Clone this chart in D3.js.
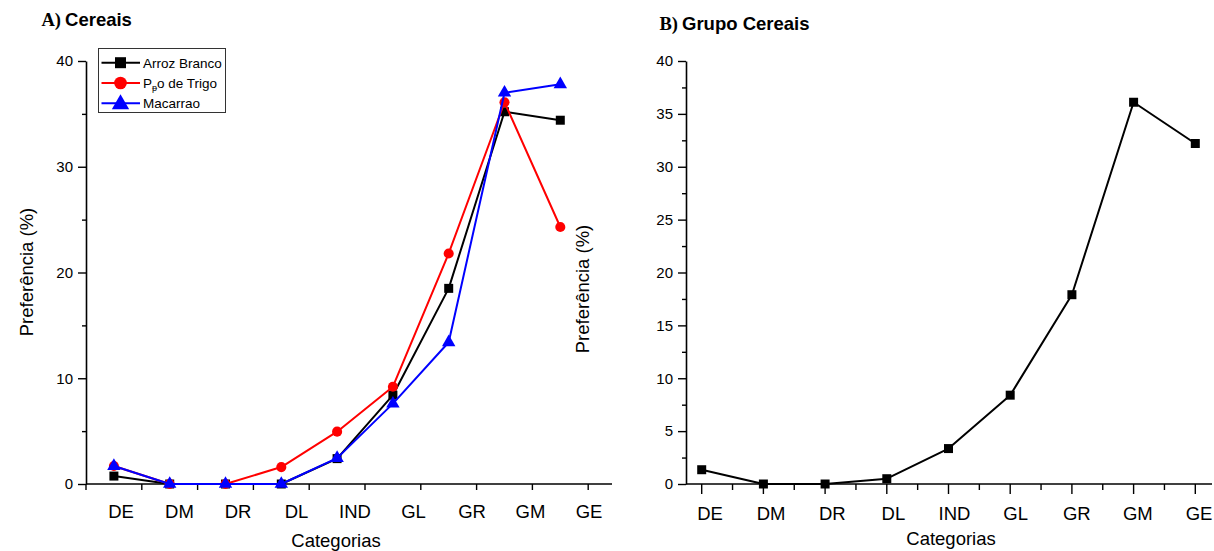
<!DOCTYPE html>
<html>
<head>
<meta charset="utf-8">
<script src="https://cdn.jsdelivr.net/npm/d3@7/dist/d3.min.js"></script>
<style>
  html, body { margin: 0; padding: 0; background: #fff; }
  svg { display: block; font-family: "Liberation Sans", Arial, sans-serif; }
</style>
</head>
<body>
<svg id="chart" width="1214" height="551"></svg>
<script>
// Categories on the x axis (shared by both panels)
const categories = ["DE", "DM", "DR", "DL", "IND", "GL", "GR", "GM", "GE"];

// Panel A: preference (%) per cereal item
const arrozBranco = [0.75, 0, 0, 0, 2.4, 8.4, 18.5, 35.2, 34.4];
const paoDeTrigo  = [1.7, 0, 0, 1.6, 4.95, 9.2, 21.8, 36.1, 24.3];
const macarrao    = [1.7, 0, 0, 0, 2.45, 7.6, 13.4, 37.0, 37.8];

// Panel B: cereal group preference (%)
const grupoCereais = [1.35, 0, 0, 0.5, 3.35, 8.4, 17.9, 36.1, 32.2];

// Tick values
const leftMajorTicks  = [0, 10, 20, 30, 40];
const leftMinorTicks  = [5, 15, 25, 35];
const rightMajorTicks = [0, 5, 10, 15, 20, 25, 30, 35, 40];
const rightMinorTicks = [2.5, 7.5, 12.5, 17.5, 22.5, 27.5, 32.5, 37.5];

const seriesA = [
  { name: "Arroz Branco", values: arrozBranco, color: "#000000", symbol: d3.symbolSquare },
  { name: "Pão de Trigo", values: paoDeTrigo,  color: "#ff0000", symbol: d3.symbolCircle },
  { name: "Macarrao",     values: macarrao,    color: "#0000ff", symbol: d3.symbolTriangle }
];

const svg = d3.select("#chart");
const tickFont = 15, labelFont = 18.5;

function drawYAxis(g, x, y, major, minor) {
  const ax = g.append("g").attr("transform", `translate(${x},0)`)
    .call(d3.axisLeft(y).tickValues(major).tickSize(8).tickPadding(5).tickSizeOuter(0));
  ax.select(".domain").attr("stroke", "#000").attr("stroke-width", 1.6);
  ax.selectAll(".tick line").attr("stroke", "#000").attr("stroke-width", 1.4);
  ax.selectAll(".tick text").attr("font-size", tickFont).attr("fill", "#000")
    .attr("font-family", "Liberation Sans, Arial, sans-serif");
  const mn = g.append("g").attr("transform", `translate(${x},0)`)
    .call(d3.axisLeft(y).tickValues(minor).tickSize(4).tickFormat(""));
  mn.select(".domain").remove();
  mn.selectAll(".tick line").attr("stroke", "#000").attr("stroke-width", 1.4);
}

function drawSeries(g, x, y, values, color, symbol, size, width) {
  const line = d3.line().x((d, i) => x(categories[i])).y(d => y(d));
  g.append("path").datum(values).attr("d", line)
    .attr("fill", "none").attr("stroke", color).attr("stroke-width", width)
    .attr("stroke-linejoin", "round");
  g.selectAll(null).data(values).enter().append("path")
    .attr("transform", (d, i) => `translate(${x(categories[i])},${y(d)})`)
    .attr("d", d3.symbol().type(symbol).size(size))
    .attr("fill", color);
}

function title(g, x, y, letter, text) {
  const t = g.append("text").attr("y", y).attr("font-weight", "bold").attr("fill", "#000");
  t.append("tspan").attr("x", x).attr("font-family", "Liberation Serif, Times New Roman, serif")
    .attr("font-size", 18.5).text(letter);
  t.append("tspan").attr("dx", 4).attr("font-family", "Liberation Sans, Arial, sans-serif")
    .attr("font-size", 18.5).text(text);
}

/* ---------------- Panel A ---------------- */
{
  const g = svg.append("g");
  const yA = d3.scaleLinear().domain([0, 40]).range([484, 61]);
  const band = d3.scaleBand().domain(categories).range([86, 588.2]).padding(0);
  const xA = c => band(c) + band.bandwidth() / 2;
  const labelX = d3.scalePoint().domain(categories).range([121, 589]);

  // x axis line and ticks at category boundaries
  g.append("line").attr("x1", 86).attr("x2", 612).attr("y1", yA(0)).attr("y2", yA(0))
    .attr("stroke", "#000").attr("stroke-width", 1.6);
  const edges = categories.map(c => band(c)).concat([band.range()[1]]);
  g.selectAll(null).data(edges).enter().append("line")
    .attr("x1", d => d).attr("x2", d => d).attr("y1", yA(0)).attr("y2", yA(0) + 6)
    .attr("stroke", "#000").attr("stroke-width", 1.4);
  g.selectAll(null).data(categories).enter().append("text")
    .attr("x", d => labelX(d)).attr("y", 518).attr("text-anchor", "middle")
    .attr("font-size", labelFont).attr("fill", "#000").text(d => d);

  drawYAxis(g, 86, yA, leftMajorTicks, leftMinorTicks);

  seriesA.forEach(s => {
    const sz = s.symbol === d3.symbolTriangle ? 78 : (s.symbol === d3.symbolCircle ? 80 : 81);
    drawSeries(g, xA, yA, s.values, s.color, s.symbol, sz, 2);
  });

  // legend
  const lg = g.append("g");
  lg.append("rect").attr("x", 98.5).attr("y", 48.5).attr("width", 127).attr("height", 64)
    .attr("fill", "#fff").attr("stroke", "#333").attr("stroke-width", 1);
  seriesA.forEach((s, i) => {
    const cy = 62.7 + i * 20.3;
    lg.append("line").attr("x1", 101.5).attr("x2", 140).attr("y1", cy).attr("y2", cy)
      .attr("stroke", s.color).attr("stroke-width", 2);
    const sz = s.symbol === d3.symbolTriangle ? 130 : (s.symbol === d3.symbolCircle ? 125 : 121);
    lg.append("path").attr("transform", `translate(120.5,${cy + (s.symbol === d3.symbolTriangle ? 1 : 0)})`)
      .attr("d", d3.symbol().type(s.symbol).size(sz)).attr("fill", s.color);
    const t = lg.append("text").attr("x", 143).attr("y", cy + 5).attr("font-size", 13.5).attr("fill", "#000");
    if (s.name === "Pão de Trigo") {
      t.append("tspan").text("P");
      t.append("tspan").attr("font-size", 9).attr("dy", 3).text("ᵽ");
      t.append("tspan").attr("dy", -3).text("o de Trigo");
    } else {
      t.text(s.name);
    }
  });

  g.append("text").attr("x", 336).attr("y", 547).attr("text-anchor", "middle")
    .attr("font-size", labelFont).attr("fill", "#000").text("Categorias");
  g.append("text").attr("transform", "translate(33,272) rotate(-90)").attr("text-anchor", "middle")
    .attr("font-size", labelFont).attr("fill", "#000").text("Preferência (%)");

  title(g, 41.5, 26, "A)", "Cereais");
}

/* ---------------- Panel B ---------------- */
{
  const g = svg.append("g");
  const yB = d3.scaleLinear().domain([0, 40]).range([484, 61]);
  const xB = d3.scalePoint().domain(categories).range([701.7, 1195.3]);
  const step = xB.step();
  const labelX = d3.scalePoint().domain(categories).range([710, 1199]);

  g.append("line").attr("x1", 686).attr("x2", 1212).attr("y1", yB(0)).attr("y2", yB(0))
    .attr("stroke", "#000").attr("stroke-width", 1.6);
  g.selectAll(null).data(categories).enter().append("line")
    .attr("x1", d => xB(d)).attr("x2", d => xB(d)).attr("y1", yB(0)).attr("y2", yB(0) + 10)
    .attr("stroke", "#000").attr("stroke-width", 1.4);
  g.selectAll(null).data(categories.slice(0, -1)).enter().append("line")
    .attr("x1", d => xB(d) + step / 2).attr("x2", d => xB(d) + step / 2)
    .attr("y1", yB(0)).attr("y2", yB(0) + 6)
    .attr("stroke", "#000").attr("stroke-width", 1.4);
  g.selectAll(null).data(categories).enter().append("text")
    .attr("x", d => labelX(d)).attr("y", 520).attr("text-anchor", "middle")
    .attr("font-size", labelFont).attr("fill", "#000").text(d => d);

  drawYAxis(g, 686, yB, rightMajorTicks, rightMinorTicks);

  drawSeries(g, xB, yB, grupoCereais, "#000000", d3.symbolSquare, 81, 2);

  g.append("text").attr("x", 951).attr("y", 545).attr("text-anchor", "middle")
    .attr("font-size", labelFont).attr("fill", "#000").text("Categorias");
  g.append("text").attr("transform", "translate(589,289) rotate(-90)").attr("text-anchor", "middle")
    .attr("font-size", labelFont).attr("fill", "#000").text("Preferência (%)");

  title(g, 659.5, 30, "B)", "Grupo Cereais");
}
</script>
</body>
</html>
